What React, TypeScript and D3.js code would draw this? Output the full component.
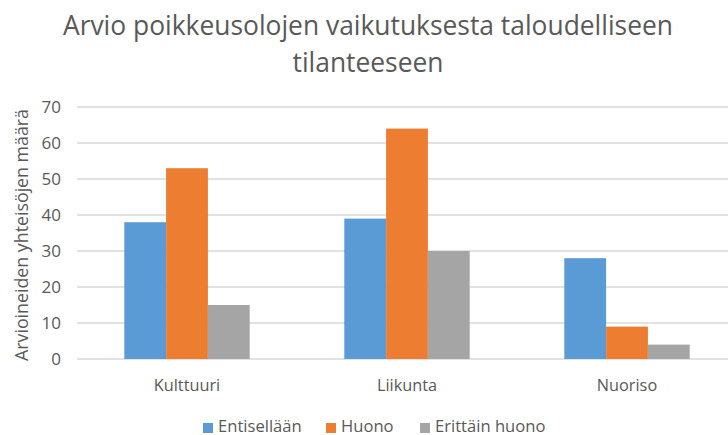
import React from 'react';
import * as d3 from 'd3';

const categories = ['Kulttuuri', 'Liikunta', 'Nuoriso'];
const seriesNames = ['Entisellään', 'Huono', 'Erittäin huono'];
const entisellaan = [38, 39, 28];
const huono = [53, 64, 9];
const erittainHuono = [15, 30, 4];
const yTicks = [0, 10, 20, 30, 40, 50, 60, 70];
const colors = ['#5B9BD5', '#ED7D31', '#A5A5A5'];
const titleLines = ['Arvio poikkeusolojen vaikutuksesta taloudelliseen', 'tilanteeseen'];
const yTitle = 'Arvioineiden yhteisöjen määrä';

const W = 728;
const H = 435;
const font = '"Open Sans", "Liberation Sans", sans-serif';

export default function App() {
  const values = [entisellaan, huono, erittainHuono];
  const margin = { left: 77, right: -9, top: 107, bottom: 76 };

  // scales
  const x = d3.scaleBand().domain(categories).range([margin.left, W - margin.right]).paddingInner(0.43).paddingOuter(0.215);
  const xInner = d3.scaleBand().domain(seriesNames).range([0, x.bandwidth()]);
  const y = d3.scaleLinear().domain([0, 70]).range([H - margin.bottom, margin.top]);

  const legendX = [203, 326, 420];

  return (
    <svg width={W} height={H} style={{ position: 'absolute', left: 0, top: 0, background: '#fff' }} fontFamily={font}>
      {titleLines.map((t, i) => (
        <text key={t} x={368} y={35 + i * 37} textAnchor="middle" fontSize={26.4} fill="#595959">{t}</text>
      ))}
      {yTicks.map(t => (
        <g key={t}>
          <line x1={margin.left} x2={W} y1={y(t)} y2={y(t)} stroke="#d9d9d9" strokeWidth={1.5} />
          <text x={61} y={y(t) + 6} textAnchor="end" fontSize={17} fill="#595959">{t}</text>
        </g>
      ))}
      {categories.map((c, ci) => (
        <g key={c} transform={`translate(${x(c)},0)`}>
          {seriesNames.map((s, si) => (
            <rect key={s} x={xInner(s)} y={y(values[si][ci])} width={xInner.bandwidth()}
              height={y(0) - y(values[si][ci])} fill={colors[si]} />
          ))}
          <text x={x.bandwidth() / 2} y={391} textAnchor="middle" fontSize={16.3} fill="#595959">{c}</text>
        </g>
      ))}
      <text transform={`translate(28,${(y(0) + y(70)) / 2 + 2}) rotate(-90)`} textAnchor="middle" fontSize={17.8} fill="#595959">{yTitle}</text>
      {seriesNames.map((s, i) => (
        <g key={s} transform={`translate(${legendX[i]},0)`}>
          <rect x={0} y={423} width={10} height={10} fill={colors[i]} />
          <text x={15} y={432} fontSize={16.6} fill="#595959">{s}</text>
        </g>
      ))}
    </svg>
  );
}
